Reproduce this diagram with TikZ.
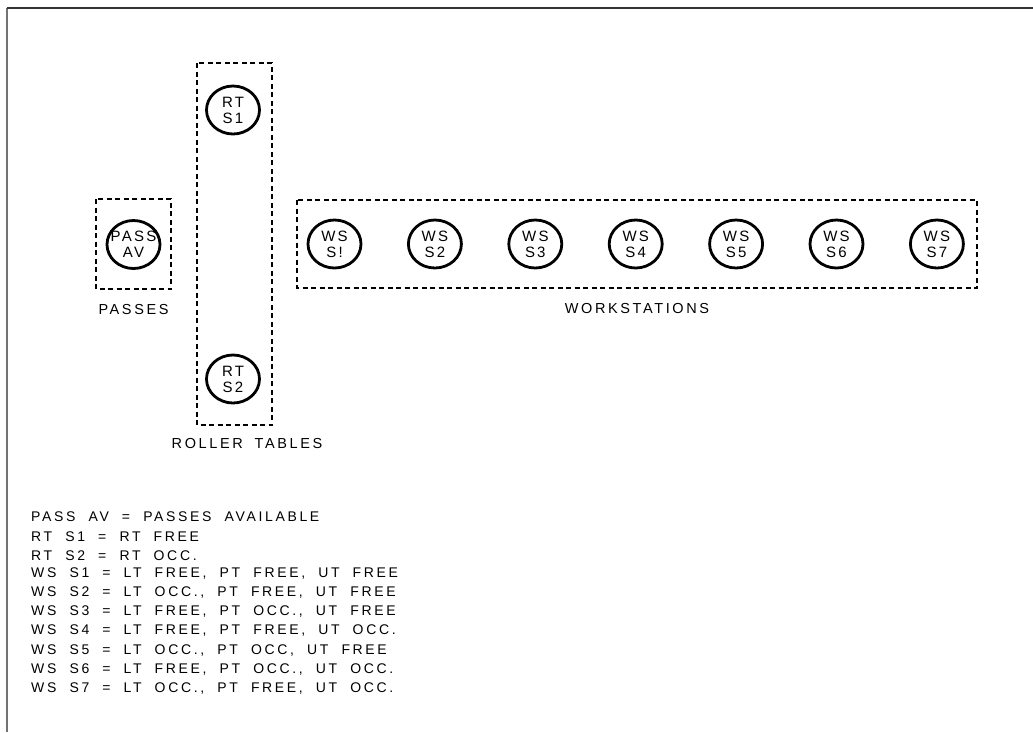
\documentclass[tikz,border=0pt]{standalone}
\usepackage{fontspec}
\setmainfont{Liberation Sans}[LetterSpace=18, WordSpace=1.8]
\newfontfamily\stationfont{Liberation Sans}[LetterSpace=15]
\newfontfamily\legendfont{Liberation Sans}[LetterSpace=19, WordSpace=2.0]
\usetikzlibrary{shapes.geometric}

\tikzset{
  station/.style={draw, ellipse, line width=2.8pt, minimum width=53pt, minimum height=48pt,
    inner sep=0pt, label={[align=center, inner sep=0pt, font=\stationfont\fontsize{15}{16}\selectfont]center:#1}},
  group/.style={draw, line width=1.2pt, dash pattern=on 5pt off 3.5pt},
  grouplabel/.style={font=\fontsize{14.5}{16}\selectfont},
  legend/.style={anchor=west, inner sep=0pt, font=\legendfont\fontsize{14}{16}\selectfont}
}

\begin{document}
\begin{tikzpicture}[x=1pt, y=-1pt]
    \useasboundingbox (0,0) rectangle (1033,732);

    % Frame
    \draw[black!55, line width=2pt] (7,8) -- (7,732);
    \draw[black!80, line width=1.8pt] (7,8) -- (1033,8);

    % Passes
    \draw[group] (96,199) rectangle (171,289);
    \node[station={PASS\\AV}] (pass) at (133.5,244.5) {};
    \node[grouplabel] (passlabel) at (133.5,309) {PASSES};

    % Roller tables
    \draw[group] (197,63) rectangle (272,425);
    \node[station={RT\\S1}] (rt1) at (233,110) {};
    \node[station={RT\\S2}] (rt2) at (233,379) {};
    \node[grouplabel] (rtlabel) at (247,443) {ROLLER TABLES};

    % Workstations
    \draw[group] (297,200) rectangle (977,288);
    \foreach \i/\s in {1/S!,2/S2,3/S3,4/S4,5/S5,6/S6,7/S7}
        \node[station={WS\\\s}] (ws\i) at ({334.5+(\i-1)*100.4},244) {};
    \node[grouplabel] (wslabel) at (637,308) {WORKSTATIONS};

    % Legend
    \foreach \y/\txt [count=\i] in {
        517/{PASS AV = PASSES AVAILABLE},
        537/{RT S1 = RT FREE},
        556/{RT S2 = RT OCC.},
        573/{WS S1 = LT FREE, PT FREE, UT FREE},
        592/{WS S2 = LT OCC., PT FREE, UT FREE},
        611/{WS S3 = LT FREE, PT OCC., UT FREE},
        630/{WS S4 = LT FREE, PT FREE, UT OCC.},
        650/{WS S5 = LT OCC., PT OCC, UT FREE},
        669/{WS S6 = LT FREE, PT OCC., UT OCC.},
        688/{WS S7 = LT OCC., PT FREE, UT OCC.}}
        \node[legend] (leg\i) at (31,\y) {\txt};

\end{tikzpicture}
\end{document}
